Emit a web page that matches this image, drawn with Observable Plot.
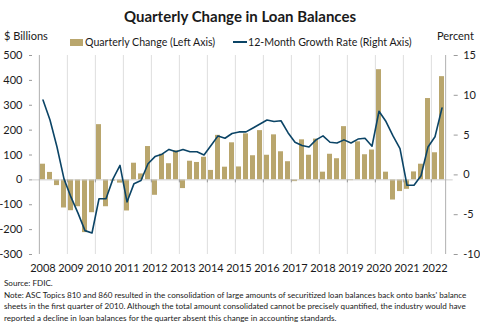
<!DOCTYPE html>
<html><head><meta charset="utf-8">
<script src="https://cdn.jsdelivr.net/npm/d3@7"></script>
<script src="https://cdn.jsdelivr.net/npm/@observablehq/plot@0.6"></script>
<style>
body{margin:0;font-family:Lato,"Open Sans",sans-serif;color:#1a1a1a;background:#fff}
#c{position:relative;width:480px;height:327px;overflow:hidden;background:#fff}
.abs{position:absolute;white-space:nowrap}
#title{left:0;width:480px;top:6px;text-align:center;font-weight:bold;font-size:15px;line-height:20px}
.axlab{top:29px;font-size:11px;line-height:14px}
.leg{top:35px;font-size:10.6px;line-height:14px}
#chart{position:absolute;left:0;top:45px}
#notes{left:4px;top:278px;font-size:8.1px;line-height:11.7px;white-space:nowrap}
</style></head><body>
<div id="c">
  <div id="title" class="abs">Quarterly Change in Loan Balances</div>
  <div class="abs axlab" style="left:4px">$ Billions</div>
  <div class="abs axlab" style="left:437px">Percent</div>
  <div class="abs" style="left:70px;top:38.5px;width:13px;height:7px;background:#b9a66d"></div>
  <div class="abs leg" style="left:85px">Quarterly Change (Left Axis)</div>
  <div class="abs" style="left:233px;top:41px;width:14px;height:2px;background:#0b4466"></div>
  <div class="abs leg" style="left:248px">12-Month Growth Rate (Right Axis)</div>
  <div id="chart"></div>
  <div id="notes" class="abs">Source: FDIC.<br>Note: ASC Topics 810 and 860 resulted in the consolidation of large amounts of securitized loan balances back onto banks' balance<br>sheets in the first quarter of 2010. Although the total amount consolidated cannot be precisely quantified, the industry would have<br>reported a decline in loan balances for the quarter absent this change in accounting standards.</div>
</div>
<script>
const years = [2008,2009,2010,2011,2012,2013,2014,2015,2016,2017,2018,2019,2020,2021,2022];
const quarterNames = ["Q1","Q2","Q3","Q4"];
const quarters = years.flatMap(y => quarterNames.map(q => y + q)).slice(0, 58);

// Quarterly change in loan balances, $ billions (left axis)
const quarterlyChange = [
  63, 30, -23, -113,
  -124, -108, -212, -132,
  222, -108, -5, -13,
  -125, 67, 24, 134,
  -62, 103, 65, 117,
  -35, 75, 70, 91,
  38, 179, 51, 149,
  52, 185, 97, 198,
  99, 181, 113, 73,
  -7, 161, 99, 164,
  31, 103, 85, 214,
  -3, 153, 101, 120,
  443, 31, -81, -47,
  -38, 32, 63, 327,
  109, 415
];

// 12-month growth rate, percent (right axis)
const growthRate = [
  9.4, 6.9, 3.5, -0.5,
  -2.8, -4.8, -7.0, -7.3,
  -3.0, -3.0, -0.5, 1.2,
  -3.4, -1.1, -0.7, 1.4,
  2.3, 2.6, 3.2, 2.9,
  3.2, 2.9, 2.9, 2.5,
  3.7, 4.9, 4.6, 5.2,
  5.4, 5.4, 5.9, 6.4,
  6.9, 6.7, 6.8, 5.3,
  4.1, 3.7, 3.5, 4.4,
  4.9, 4.1, 4.0, 4.4,
  4.0, 4.5, 4.6, 3.6,
  8.0, 6.7, 4.9, 3.3,
  -1.3, -1.3, -0.1, 3.5,
  4.8, 8.4
];

const leftTicks = [-300, -200, -100, 0, 100, 200, 300, 400, 500];
const rightTicks = [-10, -5, 0, 5, 10, 15];

// map right-axis percent onto left-axis units: [-10,15] <-> [-300,500]
const toLeft = g => -300 + (g + 10) * 32;
const fromLeft = v => (v + 300) / 32 - 10;

const rows = quarters.map((q, i) => ({q, change: quarterlyChange[i], growth: growthRate[i]}));
const yearStarts = quarters.filter(q => q.endsWith("Q1"));

const W = 480, ML = 32, MR = 27.3;
const step = (W - ML - MR) / quarters.length;

const chart = Plot.plot({
  width: W, height: 235,
  marginLeft: ML, marginRight: MR, marginTop: 10, marginBottom: 26,
  style: {fontFamily: "Lato, 'Open Sans', sans-serif", fontSize: "11px", color: "#1a1a1a", background: "transparent", overflow: "visible"},
  x: {type: "band", domain: quarters, paddingInner: 0.3, paddingOuter: 0.15},
  y: {domain: [-300, 500]},
  marks: [
    Plot.ruleX(yearStarts.slice(1), {dx: -step / 2, stroke: "#dedede", strokeWidth: 1}),
    Plot.barY(rows, {x: "q", y: "change", fill: "#b9a66d"}),
    Plot.ruleY([0], {stroke: "#cfcfcf"}),
    Plot.ruleX(yearStarts.slice(1), {dx: -step / 2, y1: 0, y2: -12, stroke: "#9a9a9a"}),
    Plot.ruleX([quarters[0]], {dx: -step / 2, stroke: "#b0b0b0"}),
    Plot.ruleX([quarters[quarters.length - 1]], {dx: step / 2, stroke: "#b0b0b0"}),
    Plot.line(rows, {x: "q", y: d => toLeft(d.growth), stroke: "#0b4466", strokeWidth: 1.6}),
    Plot.axisY(leftTicks, {anchor: "left", tickSize: 3, tickPadding: 7, label: null, tickFormat: v => String(v), stroke: "#9a9a9a", fill: "#1a1a1a"}),
    Plot.axisY(rightTicks.map(toLeft), {anchor: "right", tickSize: 4, tickPadding: 6, label: null, tickFormat: v => String(fromLeft(v)), stroke: "#9a9a9a", fill: "#1a1a1a"}),
    Plot.axisX(yearStarts, {anchor: "bottom", tickSize: 0, tickPadding: 10, label: null, tickFormat: q => q.slice(0, 4), fill: "#1a1a1a"})
  ]
});
document.getElementById("chart").appendChild(chart);
</script>
</body></html>
